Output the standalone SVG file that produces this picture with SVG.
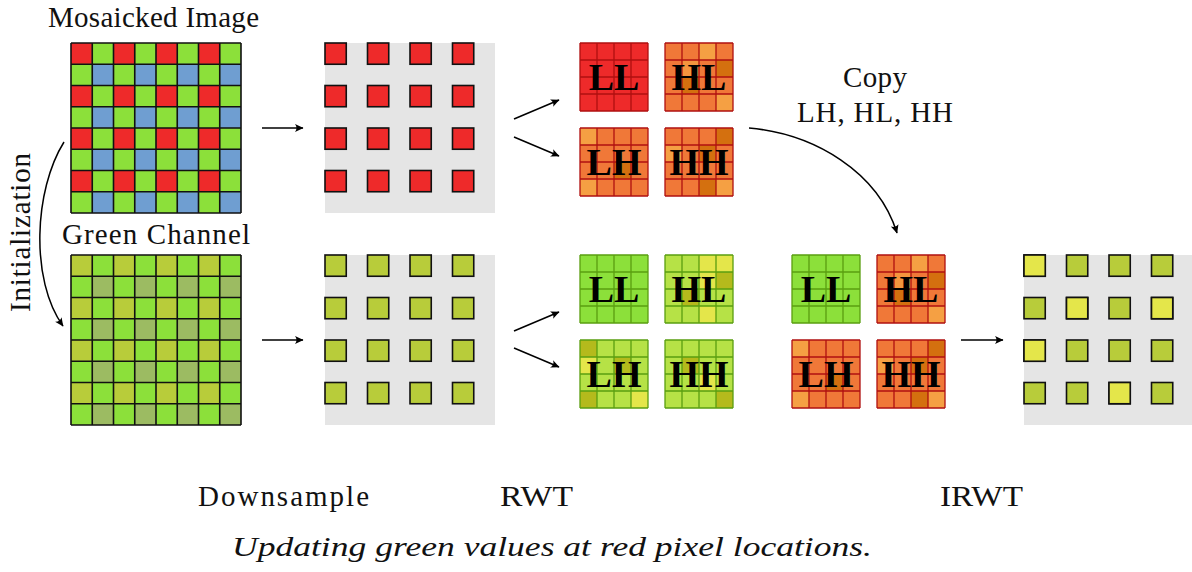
<svg xmlns="http://www.w3.org/2000/svg" xmlns:xlink="http://www.w3.org/1999/xlink" width="1192" height="572" viewBox="0 0 1192 572">
<style>
.t{font-family:"Liberation Serif","Times New Roman",serif;font-size:29px;fill:#111}
.cap{font-family:"Liberation Serif","Times New Roman",serif;font-size:28px;font-style:italic;fill:#111}
.lb{font-family:"Liberation Serif","Times New Roman",serif;font-size:38px;font-weight:bold;fill:#000;text-anchor:middle}
.g8{fill:none;stroke:#111;stroke-width:1.6}
.rg{fill:none;stroke:#B01010;stroke-width:1.3}
.gg{fill:none;stroke:#5A9E10;stroke-width:1.3}
.bg{fill:#E5E5E5}
.dot{stroke:#111;stroke-width:1.6}
.arr{fill:none;stroke:#000;stroke-width:1.5;marker-end:url(#ah)}
</style>
<defs>
<marker id="ah" markerWidth="12" markerHeight="10" viewBox="-9 -5 10 10" refX="0" refY="0" orient="auto" markerUnits="userSpaceOnUse">
<path d="M0.5 0 L-8 -4 Q-5 0 -8 4 Z" fill="#000"/>
</marker>
<pattern id="bayer" x="71" y="43" width="42.5" height="42.5" patternUnits="userSpaceOnUse">
<rect width="42.5" height="42.5" fill="#8CE03A"/>
<rect width="21.25" height="21.25" fill="#EE2A2A"/>
<rect x="21.25" y="21.25" width="21.25" height="21.25" fill="#6F9ED1"/>
</pattern>
<pattern id="gch" x="71" y="255" width="42.5" height="42.5" patternUnits="userSpaceOnUse">
<rect width="42.5" height="42.5" fill="#8CE03A"/>
<rect width="21.25" height="21.25" fill="#B8CC3A"/>
<rect x="21.25" y="21.25" width="21.25" height="21.25" fill="#9CBB62"/>
</pattern>
<path id="grid8" d="M0 0V170M21.25 0V170M42.5 0V170M63.75 0V170M85 0V170M106.25 0V170M127.5 0V170M148.75 0V170M170 0V170M0 0H170M0 21.25H170M0 42.5H170M0 63.75H170M0 85H170M0 106.25H170M0 127.5H170M0 148.75H170M0 170H170"/>
<path id="grid4" d="M0 0V68M17 0V68M34 0V68M51 0V68M68 0V68M0 0H68M0 17H68M0 34H68M0 51H68M0 68H68"/>
<g id="dots">
<rect x="0" y="0" width="21.25" height="21.25"/><rect x="42.5" y="0" width="21.25" height="21.25"/><rect x="85" y="0" width="21.25" height="21.25"/><rect x="127.5" y="0" width="21.25" height="21.25"/>
<rect x="0" y="42.5" width="21.25" height="21.25"/><rect x="42.5" y="42.5" width="21.25" height="21.25"/><rect x="85" y="42.5" width="21.25" height="21.25"/><rect x="127.5" y="42.5" width="21.25" height="21.25"/>
<rect x="0" y="85" width="21.25" height="21.25"/><rect x="42.5" y="85" width="21.25" height="21.25"/><rect x="85" y="85" width="21.25" height="21.25"/><rect x="127.5" y="85" width="21.25" height="21.25"/>
<rect x="0" y="127.5" width="21.25" height="21.25"/><rect x="42.5" y="127.5" width="21.25" height="21.25"/><rect x="85" y="127.5" width="21.25" height="21.25"/><rect x="127.5" y="127.5" width="21.25" height="21.25"/>
</g>
<g id="rHL">
<rect width="68" height="68" fill="#F07838"/>
<rect x="34" y="0" width="17" height="17" fill="#F5A043"/>
<rect x="17" y="17" width="17" height="17" fill="#F4953E"/>
<rect x="51" y="17" width="17" height="17" fill="#D4700F"/>
<rect x="17" y="34" width="17" height="17" fill="#D4700F"/>
<rect x="51" y="51" width="17" height="17" fill="#F5A043"/>
<use xlink:href="#grid4" class="rg"/>
<text x="34" y="47" class="lb">HL</text>
</g>
<g id="rLH">
<rect width="68" height="68" fill="#F07838"/>
<rect x="0" y="0" width="17" height="17" fill="#F5A043"/>
<rect x="34" y="34" width="17" height="17" fill="#D4700F"/>
<rect x="0" y="51" width="17" height="17" fill="#F5A043"/>
<use xlink:href="#grid4" class="rg"/>
<text x="34" y="47" class="lb">LH</text>
</g>
<g id="rHH">
<rect width="68" height="68" fill="#F07838"/>
<rect x="51" y="0" width="17" height="17" fill="#D4700F"/>
<rect x="0" y="17" width="17" height="17" fill="#F5A043"/>
<rect x="34" y="17" width="17" height="17" fill="#D4700F"/>
<rect x="34" y="51" width="17" height="17" fill="#D4700F"/>
<rect x="51" y="51" width="17" height="17" fill="#F5A043"/>
<use xlink:href="#grid4" class="rg"/>
<text x="34" y="47" class="lb">HH</text>
</g>
<g id="gLL">
<rect width="68" height="68" fill="#8CE03A"/>
<use xlink:href="#grid4" class="gg"/>
<text x="34" y="47" class="lb">LL</text>
</g>
</defs>
<rect width="1192" height="572" fill="#fff"/>

<g id="mosaicked">
<rect x="71" y="43" width="170" height="170" fill="url(#bayer)"/>
<use xlink:href="#grid8" x="71" y="43" class="g8"/>
<text x="48" y="27" class="t" textLength="211">Mosaicked Image</text>
</g>

<g id="green-channel">
<rect x="71" y="255" width="170" height="170" fill="url(#gch)"/>
<use xlink:href="#grid8" x="71" y="255" class="g8"/>
<text x="62" y="244" class="t" textLength="188">Green Channel</text>
</g>

<g id="initialization-label">
<text transform="translate(30,312) rotate(-90)" class="t" textLength="159">Initialization</text>
</g>

<g id="downsampled-red">
<rect x="325" y="43" width="170" height="170" class="bg"/>
<use xlink:href="#dots" x="325" y="43" fill="#EE2A2A" class="dot"/>
</g>

<g id="downsampled-green">
<rect x="325" y="255" width="170" height="170" class="bg"/>
<use xlink:href="#dots" x="325" y="255" fill="#B8CC3A" class="dot"/>
</g>

<g id="rwt-red">
<g id="red-LL">
<rect x="580" y="43" width="68" height="68" fill="#EE2A2A"/>
<use xlink:href="#grid4" x="580" y="43" class="rg"/>
<text x="614" y="90" class="lb">LL</text>
</g>
<use xlink:href="#rHL" x="665" y="43"/>
<use xlink:href="#rLH" x="580" y="128"/>
<use xlink:href="#rHH" x="665" y="128"/>
</g>

<g id="rwt-green">
<use xlink:href="#gLL" x="580" y="255"/>
<g id="green-HL">
<rect x="665" y="255" width="68" height="68" fill="#B6E246"/>
<rect x="699" y="255" width="17" height="17" fill="#E4E64A"/>
<rect x="716" y="255" width="17" height="17" fill="#E4E64A"/>
<rect x="699" y="272" width="17" height="17" fill="#E4E64A"/>
<rect x="716" y="272" width="17" height="17" fill="#B4BA1C"/>
<rect x="682" y="289" width="17" height="17" fill="#B4BA1C"/>
<rect x="699" y="306" width="17" height="17" fill="#E4E64A"/>
<use xlink:href="#grid4" x="665" y="255" class="gg"/>
<text x="699" y="302" class="lb">HL</text>
</g>
<g id="green-LH">
<rect x="580" y="340" width="68" height="68" fill="#B6E246"/>
<rect x="580" y="340" width="17" height="17" fill="#B4BA1C"/>
<rect x="580" y="357" width="17" height="17" fill="#E4E64A"/>
<rect x="614" y="357" width="17" height="17" fill="#B4BA1C"/>
<rect x="580" y="391" width="17" height="17" fill="#B4BA1C"/>
<rect x="631" y="391" width="17" height="17" fill="#E4E64A"/>
<use xlink:href="#grid4" x="580" y="340" class="gg"/>
<text x="614" y="387" class="lb">LH</text>
</g>
<g id="green-HH">
<rect x="665" y="340" width="68" height="68" fill="#B6E246"/>
<rect x="682" y="357" width="17" height="17" fill="#B4BA1C"/>
<rect x="699" y="374" width="17" height="17" fill="#E4E64A"/>
<rect x="716" y="391" width="17" height="17" fill="#B4BA1C"/>
<use xlink:href="#grid4" x="665" y="340" class="gg"/>
<text x="699" y="387" class="lb">HH</text>
</g>
</g>

<g id="irwt-input">
<use xlink:href="#gLL" x="792" y="255"/>
<use xlink:href="#rHL" x="877" y="255"/>
<use xlink:href="#rLH" x="792" y="340"/>
<use xlink:href="#rHH" x="877" y="340"/>
</g>

<g id="output">
<rect x="1024" y="255" width="170" height="170" class="bg"/>
<use xlink:href="#dots" x="1024" y="255" fill="#B8CC3A" class="dot"/>
<g fill="#E4E64A" class="dot">
<rect x="1024" y="255" width="21.25" height="21.25"/>
<rect x="1066.5" y="297.5" width="21.25" height="21.25"/>
<rect x="1151.5" y="297.5" width="21.25" height="21.25"/>
<rect x="1024" y="340" width="21.25" height="21.25"/>
<rect x="1109" y="382.5" width="21.25" height="21.25"/>
</g>
</g>

<g id="connectors">
<path class="arr" d="M64 142 C34 190 30 280 63 326"/>
<path class="arr" d="M262 128 H303"/>
<path class="arr" d="M262 340 H303"/>
<path class="arr" d="M514 119 L559 100"/>
<path class="arr" d="M514 137 L559 156"/>
<path class="arr" d="M514 331 L559 312"/>
<path class="arr" d="M514 348 L559 367"/>
<path class="arr" d="M749 128 C815 134 878 172 897 233"/>
<path class="arr" d="M961 340 H1003"/>
</g>

<g id="labels">
<text x="843" y="87" class="t" textLength="64">Copy</text>
<text x="797" y="122" class="t" textLength="156">LH, HL, HH</text>
<text x="198" y="506" class="t" textLength="171">Downsample</text>
<text x="500" y="506" class="t" textLength="73" lengthAdjust="spacingAndGlyphs">RWT</text>
<text x="940" y="506" class="t" textLength="83" lengthAdjust="spacingAndGlyphs">IRWT</text>
<text x="232" y="556" class="cap" textLength="640" lengthAdjust="spacingAndGlyphs">Updating green values at red pixel locations.</text>
</g>
</svg>
